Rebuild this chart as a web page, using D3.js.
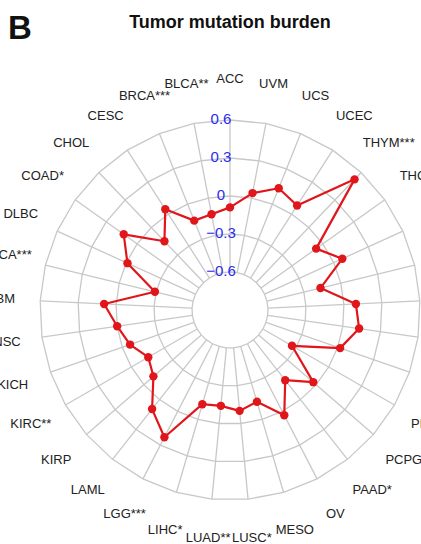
<!DOCTYPE html>
<html>
<head>
<meta charset="utf-8">
<script src="https://cdn.jsdelivr.net/npm/d3@7"></script>
<style>
  html, body { margin: 0; padding: 0; background: #fff; overflow: hidden; }
  svg { display: block; font-family: "Liberation Sans", Arial, sans-serif; }
</style>
</head>
<body>
<svg id="chart" width="421" height="544"></svg>
<script>
// Cancer types, clockwise from the top spoke
const cancerTypes = ["ACC", "UVM", "UCS", "UCEC", "THYM", "THCA", "TGCT", "STAD", "SKCM",
  "SARC", "READ", "PRAD", "PCPG", "PAAD", "OV", "MESO", "LUSC", "LUAD", "LIHC", "LGG",
  "LAML", "KIRP", "KIRC", "KICH", "HNSC", "GBM", "ESCA", "DLBC", "COAD", "CHOL", "CESC",
  "BRCA", "BLCA"];

// Significance marks appended to each label
const significance = ["", "", "", "", "***", "", "", "", "",
  "", "", "", "", "*", "", "", "*", "**", "*", "***",
  "", "", "**", "", "", "", "***", "", "*", "", "",
  "***", "**"];

// Correlation with tumor mutation burden
const tmbCorrelation = [-0.09, 0.04, 0.135, 0.08, 0.525, -0.065, 0.075, -0.165, 0.095,
  0.13, 0.02, -0.335, -0.03, -0.195, 0.035, -0.145, -0.10, -0.14, -0.125, 0.23,
  0.095, -0.10, -0.155, -0.065, 0.0, 0.095, -0.29, -0.01, 0.13, -0.15, 0.045,
  -0.14, -0.13];

// Radial tick labels
const radialTicks = [-0.6, -0.3, 0, 0.3, 0.6];
const radialTickLabels = ["\u22120.6", "\u22120.3", "0", "0.3", "0.6"];

const svg = d3.select("#chart");
const cx = 230, cy = 310;

const r = d3.scaleLinear().domain([-0.9, 0.6]).range([0, 190]);
const angle = d3.scaleLinear().domain([0, cancerTypes.length]).range([0, 2 * Math.PI]);

const g = svg.append("g").attr("transform", `translate(${cx},${cy})`);

const px = (a, rad) => rad * Math.sin(a);
const py = (a, rad) => -rad * Math.cos(a);

// Grid rings (polygons)
const idx = d3.range(cancerTypes.length);
const ringLine = d3.lineRadial().angle(i => angle(i)).curve(d3.curveLinearClosed);
g.selectAll("path.ring")
  .data(radialTicks)
  .join("path")
  .attr("class", "ring")
  .attr("d", v => ringLine.radius(() => r(v))(idx))
  .attr("fill", "none")
  .attr("stroke", "#c8c8c8")
  .attr("stroke-width", 1.3);

// Spokes
g.selectAll("line.spoke")
  .data(idx)
  .join("line")
  .attr("class", "spoke")
  .attr("x1", i => px(angle(i), r(-0.6)))
  .attr("y1", i => py(angle(i), r(-0.6)))
  .attr("x2", i => px(angle(i), r(0.6)))
  .attr("y2", i => py(angle(i), r(0.6)))
  .attr("stroke", "#c8c8c8")
  .attr("stroke-width", 1.3);

// Category labels
g.selectAll("text.cat")
  .data(idx)
  .join("text")
  .attr("class", "cat")
  .attr("x", i => px(angle(i), 230))
  .attr("y", i => py(angle(i), 230))
  .attr("text-anchor", "middle")
  .attr("dominant-baseline", "middle")
  .attr("font-size", 13)
  .attr("fill", "#222")
  .text(i => cancerTypes[i] + significance[i]);

// Data polygon
const dataLine = d3.lineRadial()
  .angle((d, i) => angle(i))
  .radius(d => r(d))
  .curve(d3.curveLinearClosed);

g.append("path")
  .attr("d", dataLine(tmbCorrelation))
  .attr("fill", "none")
  .attr("stroke", "#e0161b")
  .attr("stroke-width", 2.2)
  .attr("stroke-linejoin", "round");

g.selectAll("circle.pt")
  .data(tmbCorrelation)
  .join("circle")
  .attr("class", "pt")
  .attr("cx", (d, i) => px(angle(i), r(d)))
  .attr("cy", (d, i) => py(angle(i), r(d)))
  .attr("r", 4.2)
  .attr("fill", "#e0161b");

// Radial axis labels
g.selectAll("text.tick")
  .data(radialTicks)
  .join("text")
  .attr("class", "tick")
  .attr("x", -9)
  .attr("y", v => -r(v))
  .attr("text-anchor", "middle")
  .attr("dominant-baseline", "middle")
  .attr("font-size", 15)
  .attr("fill", "#2b2bf2")
  .text((v, i) => radialTickLabels[i]);

// Panel letter and title
svg.append("text")
  .attr("x", 8).attr("y", 39)
  .attr("font-size", 33).attr("font-weight", "bold").attr("fill", "#111")
  .text("B");

svg.append("text")
  .attr("x", 230).attr("y", 28)
  .attr("text-anchor", "middle")
  .attr("font-size", 18).attr("font-weight", "bold").attr("fill", "#111")
  .text("Tumor mutation burden");
</script>
</body>
</html>
